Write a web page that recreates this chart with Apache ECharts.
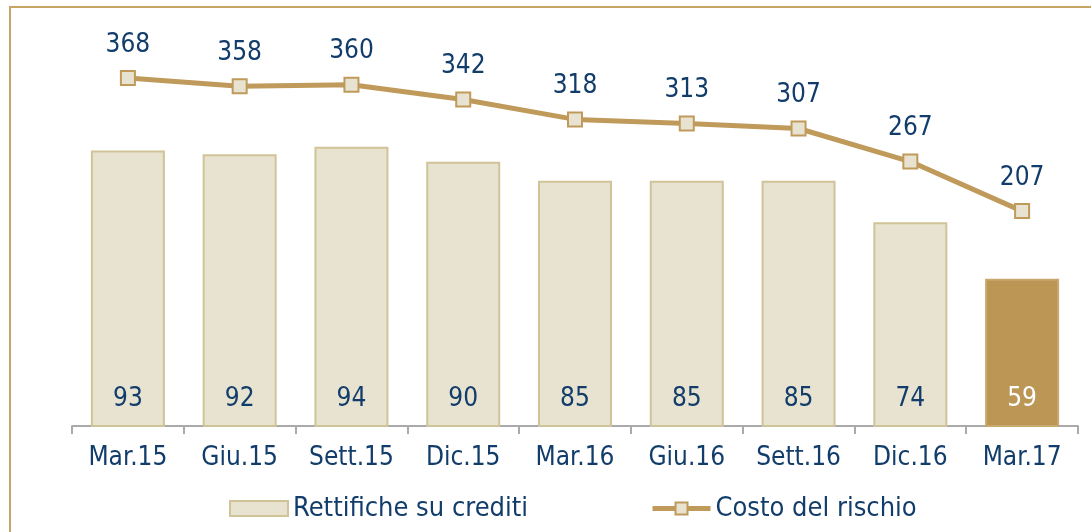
<!DOCTYPE html>
<html>
<head>
<meta charset="utf-8">
<script src="https://cdn.jsdelivr.net/npm/echarts@6/dist/echarts.min.js"></script>
<style>
  body { margin: 0; background: #fff; }
  #main { width: 1091px; height: 532px; }
</style>
</head>
<body>
<div id="main"></div>
<script>
// dati
var categories = ['Mar.15', 'Giu.15', 'Sett.15', 'Dic.15', 'Mar.16', 'Giu.16', 'Sett.16', 'Dic.16', 'Mar.17']
var rettifiche = [93, 92, 94, 90, 85, 85, 85, 74, 59]
var costoRischio = [368, 358, 360, 342, 318, 313, 307, 267, 207]

var blu = '#123d6b'
var oro = '#bf9a5a'
var beige = '#e8e3d1'
var font = '"DejaVu Sans Condensed", "DejaVu Sans"'

var chart = echarts.init(document.getElementById('main'))

// l'ultima barra e' evidenziata
var barData = rettifiche.map(function (v, i) {
  if (i === rettifiche.length - 1) {
    return {
      value: v,
      itemStyle: { color: '#bc9655', borderColor: '#c8a86c' },
      label: { color: '#fff' }
    }
  }
  return v
})

chart.setOption({
  animation: false,
  textStyle: { fontFamily: font },
  graphic: [{
    type: 'rect',
    shape: { x: 10, y: 7, width: 1200, height: 700 },
    style: { fill: 'none', stroke: '#c9a467', lineWidth: 2 }
  }],
  grid: { left: 72, right: 13, top: 26, height: 400 },
  legend: {
    bottom: 5,
    left: 224,
    itemGap: 122,
    itemWidth: 58,
    itemHeight: 15,
    textStyle: { color: blu, fontSize: 27, fontFamily: font },
    data: [
      { name: 'Rettifiche su crediti', icon: 'rect', itemStyle: { color: beige, borderColor: '#cfc397', borderWidth: 2 } },
      { name: 'Costo del rischio', lineStyle: { color: oro, width: 5 } }
    ]
  },
  xAxis: {
    type: 'category',
    data: categories,
    axisLine: { onZero: false, lineStyle: { color: '#aaaaaa', width: 2 } },
    axisTick: { show: true, length: 8, lineStyle: { color: '#aaaaaa', width: 2 } },
    axisLabel: { color: blu, fontSize: 26, margin: 19 }
  },
  yAxis: [
    { type: 'value', min: 20, max: 126, show: false, splitLine: { show: false } },
    { type: 'value', min: -53, max: 431, show: false, splitLine: { show: false } }
  ],
  series: [
    {
      name: 'Rettifiche su crediti',
      type: 'bar',
      yAxisIndex: 0,
      barWidth: 74,
      data: barData,
      itemStyle: { color: beige, borderColor: '#cfc397', borderWidth: 2 },
      label: {
        show: true,
        position: 'insideBottom',
        distance: 15,
        color: blu,
        fontSize: 26
      }
    },
    {
      name: 'Costo del rischio',
      type: 'line',
      yAxisIndex: 1,
      data: costoRischio,
      symbol: 'rect',
      symbolSize: 14,
      lineStyle: { color: oro, width: 5 },
      itemStyle: { color: beige, borderColor: oro, borderWidth: 2 },
      label: {
        show: true,
        position: 'top',
        distance: 12,
        color: blu,
        fontSize: 26
      }
    }
  ]
})
</script>
</body>
</html>
